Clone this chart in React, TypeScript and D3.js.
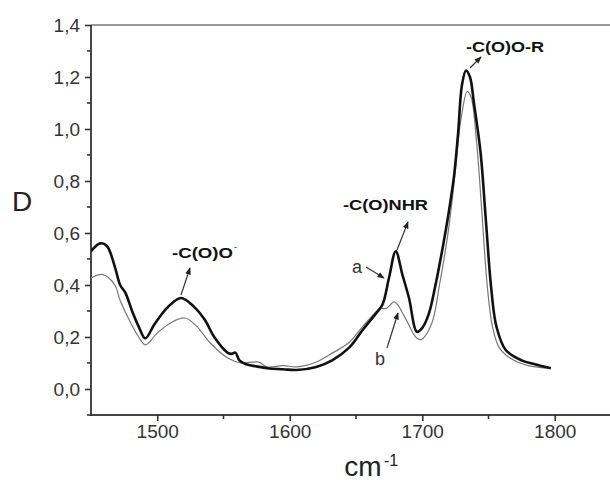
import React, { useEffect, useRef } from "react";
import * as d3 from "d3";

const W = 610;
const H = 483;

// wavenumbers (cm-1) and absorbance for curve a (thick)
const wnA = [1450, 1457, 1462, 1468, 1472, 1476, 1481, 1486, 1491, 1498, 1508, 1518, 1528, 1536, 1543, 1553, 1556, 1559, 1562, 1567, 1575, 1583, 1595, 1605, 1620, 1632, 1645, 1655, 1665, 1670, 1675, 1680, 1685, 1690, 1696, 1700, 1705, 1710, 1716, 1720, 1724, 1727, 1730, 1733, 1736, 1739, 1744, 1748, 1752, 1756, 1763, 1775, 1785, 1797];
const valA = [0.53, 0.56, 0.55, 0.47, 0.4, 0.37, 0.3, 0.24, 0.195, 0.25, 0.315, 0.35, 0.315, 0.265, 0.2, 0.14, 0.135, 0.14, 0.11, 0.095, 0.087, 0.08, 0.076, 0.073, 0.085, 0.11, 0.16, 0.227, 0.29, 0.325, 0.43, 0.53, 0.44, 0.35, 0.22, 0.235, 0.29, 0.4, 0.56, 0.68, 0.82, 0.98, 1.17, 1.225, 1.2, 1.1, 0.91, 0.65, 0.39, 0.24, 0.15, 0.11, 0.095, 0.08];

// curve b (thin)
const wnB = [1450, 1459, 1468, 1472, 1480, 1486, 1491, 1500, 1510, 1521, 1530, 1540, 1553, 1563, 1576, 1583, 1595, 1605, 1620, 1632, 1645, 1655, 1665, 1668, 1673, 1679, 1688, 1695, 1699, 1707, 1713, 1720, 1725, 1729, 1734, 1737, 1741, 1745, 1749, 1753, 1758, 1766, 1780, 1797];
const valB = [0.427, 0.44, 0.4, 0.34, 0.254, 0.2, 0.17, 0.215, 0.254, 0.273, 0.24, 0.177, 0.12, 0.1, 0.104, 0.085, 0.09, 0.085, 0.104, 0.138, 0.18, 0.24, 0.296, 0.31, 0.31, 0.335, 0.265, 0.2, 0.19, 0.25, 0.4, 0.62, 0.84, 1.03, 1.145, 1.12, 0.95, 0.68, 0.4, 0.24, 0.16, 0.12, 0.09, 0.08];

const xTicks = [1500, 1600, 1700, 1800];
const xMinor = [1550, 1650, 1750];
const yTicks = [0, 0.2, 0.4, 0.6, 0.8, 1.0, 1.2, 1.4];
const yMinor = [-0.1, 0.1, 0.3, 0.5, 0.7, 0.9, 1.1, 1.3];

const X_DOMAIN = [1450, 1850];
const Y_DOMAIN = [-0.1, 1.4];

const FONT = "'Liberation Sans', Arial, sans-serif";

export default function App() {
  const gx = useRef<SVGGElement>(null);
  const gy = useRef<SVGGElement>(null);

  const x = d3.scaleLinear().domain(X_DOMAIN).range([91, 621]);
  const y = d3.scaleLinear().domain(Y_DOMAIN).range([415, 25]);

  const locale = d3.formatLocale({ decimal: ",", thousands: ".", grouping: [3], currency: ["", ""] });
  const fmt = locale.format(".1f");

  useEffect(() => {
    const ax = d3.select(gx.current!);
    ax.selectAll("*").remove();
    ax.call(d3.axisBottom(x).tickValues(xTicks).tickSize(6).tickPadding(4).tickFormat(d3.format("d")) as any);
    ax.call(g => g.select(".domain").remove());
    ax.selectAll(".tick line").attr("stroke", "#333").attr("stroke-width", 1.6);
    ax.selectAll(".tick text").attr("font-family", FONT).attr("font-size", 19).attr("fill", "#333");
    ax.selectAll(".minor").data(xMinor).enter().append("line").attr("class", "minor")
      .attr("x1", d => x(d)).attr("x2", d => x(d)).attr("y1", 0).attr("y2", 4).attr("stroke", "#333").attr("stroke-width", 1.6);

    const ay = d3.select(gy.current!);
    ay.selectAll("*").remove();
    ay.call(d3.axisLeft(y).tickValues(yTicks).tickSize(6).tickPadding(5).tickFormat(d => fmt(d as number)) as any);
    ay.call(g => g.select(".domain").remove());
    ay.selectAll(".tick line").attr("stroke", "#333").attr("stroke-width", 1.6);
    ay.selectAll(".tick text").attr("font-family", FONT).attr("font-size", 19).attr("fill", "#333");
    ay.selectAll(".minor").data(yMinor).enter().append("line").attr("class", "minor")
      .attr("y1", d => y(d)).attr("y2", d => y(d)).attr("x1", 0).attr("x2", -4).attr("stroke", "#333").attr("stroke-width", 1.6);
  }, []);

  const line = d3.line<[number, number]>().x(d => x(d[0])).y(d => y(d[1])).curve(d3.curveCatmullRom.alpha(0.5));
  const dataA = wnA.map((w, i) => [w, valA[i]] as [number, number]);
  const dataB = wnB.map((w, i) => [w, valB[i]] as [number, number]);

  const arrow = (x1: number, y1: number, x2: number, y2: number, key: string) => (
    <line key={key} x1={x1} y1={y1} x2={x2} y2={y2} stroke="#333" strokeWidth={1.2} markerEnd="url(#ah)" />
  );

  return (
    <svg width={W} height={H} style={{ position: "absolute", left: 0, top: 0, background: "#fff" }}>
      <defs>
        <marker id="ah" viewBox="0 0 10 10" refX="9" refY="5" markerWidth="6" markerHeight="6" orient="auto">
          <path d="M0,1 L10,5 L0,9 z" fill="#222" />
        </marker>
        <clipPath id="plot">
          <rect x={91} y={20} width={520} height={395} />
        </clipPath>
      </defs>
      <rect x={0} y={0} width={W} height={H} fill="#fff" />
      {/* frame */}
      <line x1={91} x2={610} y1={y(1.4)} y2={y(1.4)} stroke="#999" strokeWidth={2} />
      <line x1={91} x2={610} y1={y(-0.1)} y2={y(-0.1)} stroke="#444" strokeWidth={2} />
      <line x1={91} x2={91} y1={y(1.4)} y2={y(-0.1) + 1} stroke="#333" strokeWidth={1.8} />
      <g ref={gx} transform={`translate(0,${y(-0.1)})`} />
      <g ref={gy} transform={`translate(91,0)`} />
      <g clipPath="url(#plot)">
        <path d={line(dataB) || ""} fill="none" stroke="#777" strokeWidth={1.2} />
        <path d={line(dataA) || ""} fill="none" stroke="#111" strokeWidth={2.6} strokeLinejoin="round" />
      </g>
      {/* axis titles */}
      <text x={12} y={211} fontFamily={FONT} fontSize={28} fill="#222">D</text>
      <text x={363} y={476} fontFamily={FONT} fontSize={28} fill="#222" textAnchor="middle">cm</text>
      <text x={384} y={466} fontFamily={FONT} fontSize={16} fill="#222">-1</text>
      {/* annotations */}
      <text x={172} y={258} fontFamily={FONT} fontSize={15} fontWeight="bold" fill="#111" textLength={61} lengthAdjust="spacingAndGlyphs">-C(O)O</text>
      <text x={234} y={250} fontFamily={FONT} fontSize={9} fill="#111">-</text>
      <text x={343} y={210} fontFamily={FONT} fontSize={15} fontWeight="bold" fill="#111" textLength={85} lengthAdjust="spacingAndGlyphs">-C(O)NHR</text>
      <text x={466} y={52} fontFamily={FONT} fontSize={14} fontWeight="bold" fill="#111" textLength={78} lengthAdjust="spacingAndGlyphs">-C(O)O-R</text>
      <text x={352} y={273} fontFamily={FONT} fontSize={18} fill="#333">a</text>
      <text x={375} y={365} fontFamily={FONT} fontSize={18} fill="#333">b</text>
      {arrow(181, 295, 190, 268, "a1")}
      {arrow(397, 250, 408, 222, "a2")}
      {arrow(366, 267, 384, 278, "a3")}
      {arrow(387, 348, 398, 313, "a4")}
      {arrow(470, 68, 481, 57, "a5")}
    </svg>
  );
}
